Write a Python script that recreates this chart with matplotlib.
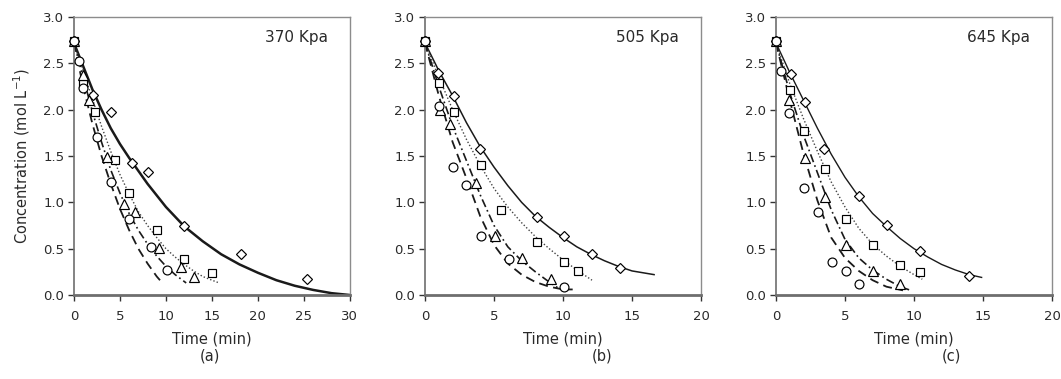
import matplotlib
matplotlib.use("Agg")
import matplotlib.pyplot as plt

plt.rcParams['font.family'] = ['DejaVu Sans']
plt.rcParams['mathtext.default'] = 'regular'

# ---- panel (a) 370 Kpa ----
a_dia_t = [0, 2.1, 4.06, 6.3, 8.1, 12.0, 18.2, 25.3]
a_dia_c = [2.74, 2.16, 1.97, 1.43, 1.33, 0.74, 0.44, 0.17]
a_sq_t = [0, 1.0, 2.3, 4.5, 6.0, 9.0, 12.0, 15.0]
a_sq_c = [2.74, 2.28, 1.98, 1.46, 1.10, 0.70, 0.39, 0.24]
a_tri_t = [0, 1.0, 1.6, 3.6, 5.4, 6.6, 9.2, 11.6, 13.1]
a_tri_c = [2.74, 2.37, 2.10, 1.49, 0.98, 0.90, 0.51, 0.30, 0.19]
a_cir_t = [0, 0.5, 1.0, 2.5, 4.0, 6.0, 8.4, 10.1]
a_cir_c = [2.74, 2.52, 2.23, 1.71, 1.22, 0.82, 0.52, 0.27]

a_fit_dia_t = [0, 1, 2, 3, 4, 5, 6, 8, 10, 12, 14, 16, 18, 20, 22, 24, 26, 28, 30]
a_fit_dia_c = [2.72, 2.47, 2.22, 2.0, 1.8, 1.63, 1.48, 1.2, 0.95, 0.74, 0.58, 0.44, 0.33, 0.24, 0.16, 0.10, 0.055, 0.02, 0.0]
a_fit_sq_t = [0, 1, 2, 3, 4, 5, 6, 7, 8, 9, 10, 11, 12, 13, 14, 15, 15.8]
a_fit_sq_c = [2.72, 2.42, 2.12, 1.82, 1.55, 1.30, 1.09, 0.90, 0.75, 0.62, 0.50, 0.41, 0.33, 0.26, 0.20, 0.16, 0.13]
a_fit_tri_t = [0, 1, 2, 3, 4, 5, 6, 7, 8, 9, 10, 11, 12.2]
a_fit_tri_c = [2.72, 2.35, 1.98, 1.65, 1.35, 1.10, 0.88, 0.70, 0.55, 0.42, 0.31, 0.22, 0.13]
a_fit_cir_t = [0, 1, 2, 3, 4, 5, 6, 7, 8, 9, 9.7]
a_fit_cir_c = [2.72, 2.25, 1.85, 1.50, 1.20, 0.93, 0.70, 0.50, 0.34, 0.20, 0.12]

# ---- panel (b) 505 Kpa ----
b_dia_t = [0, 0.96, 2.1, 4.0, 8.1, 10.1, 12.1, 14.1]
b_dia_c = [2.74, 2.40, 2.15, 1.58, 0.84, 0.64, 0.44, 0.29]
b_sq_t = [0, 1.04, 2.07, 4.07, 5.54, 8.1, 10.1, 11.06]
b_sq_c = [2.74, 2.29, 1.97, 1.40, 0.92, 0.57, 0.36, 0.26]
b_tri_t = [0, 1.08, 1.8, 3.7, 5.1, 7.0, 9.1]
b_tri_c = [2.74, 2.00, 1.85, 1.21, 0.64, 0.40, 0.17]
b_cir_t = [0, 1.0, 2.05, 3.0, 4.05, 6.07, 10.1]
b_cir_c = [2.74, 2.04, 1.38, 1.19, 0.64, 0.39, 0.09]

b_fit_dia_t = [0, 1, 2, 3, 4, 5, 6, 7, 8, 9, 10, 11, 12, 13, 14, 15, 16.6]
b_fit_dia_c = [2.72, 2.42, 2.15, 1.86, 1.60, 1.38, 1.18, 1.00, 0.85, 0.73, 0.62, 0.52, 0.44, 0.37, 0.31, 0.26, 0.22]
b_fit_sq_t = [0, 1, 2, 3, 4, 5, 6, 7, 8, 9, 10, 11, 12.1]
b_fit_sq_c = [2.72, 2.35, 2.00, 1.68, 1.40, 1.15, 0.95, 0.78, 0.63, 0.50, 0.38, 0.27, 0.16]
b_fit_tri_t = [0, 1, 2, 3, 4, 5, 6, 7, 8, 9, 9.6]
b_fit_tri_c = [2.72, 2.25, 1.82, 1.45, 1.08, 0.75, 0.52, 0.37, 0.25, 0.14, 0.08]
b_fit_cir_t = [0, 1, 2, 3, 4, 5, 6, 7, 8, 9, 10, 10.7]
b_fit_cir_c = [2.72, 2.15, 1.65, 1.26, 0.85, 0.54, 0.34, 0.22, 0.14, 0.09, 0.06, 0.06]

# ---- panel (c) 645 Kpa ----
c_dia_t = [0, 1.08, 2.07, 3.5, 6.05, 8.02, 10.4, 14.0]
c_dia_c = [2.74, 2.39, 2.08, 1.58, 1.07, 0.76, 0.47, 0.21]
c_sq_t = [0, 1.04, 2.02, 3.52, 5.04, 7.0, 8.99, 10.43]
c_sq_c = [2.74, 2.21, 1.77, 1.36, 0.82, 0.54, 0.32, 0.245]
c_tri_t = [0, 0.96, 2.07, 3.54, 5.06, 7.06, 8.99]
c_tri_c = [2.74, 2.10, 1.48, 1.06, 0.545, 0.26, 0.12]
c_cir_t = [0, 0.36, 0.92, 2.0, 3.06, 4.07, 5.04, 6.05]
c_cir_c = [2.74, 2.42, 1.96, 1.15, 0.90, 0.36, 0.26, 0.12]

c_fit_dia_t = [0, 1, 2, 3, 4, 5, 6, 7, 8, 9, 10, 11, 12, 13, 14, 14.9]
c_fit_dia_c = [2.72, 2.40, 2.10, 1.80, 1.52, 1.27, 1.06, 0.88, 0.74, 0.61, 0.50, 0.41, 0.33, 0.27, 0.22, 0.19]
c_fit_sq_t = [0, 1, 2, 3, 4, 5, 6, 7, 8, 9, 10, 10.6]
c_fit_sq_c = [2.72, 2.28, 1.90, 1.55, 1.22, 0.95, 0.72, 0.55, 0.42, 0.31, 0.22, 0.17]
c_fit_tri_t = [0, 1, 2, 3, 4, 5, 6, 7, 8, 9, 9.76]
c_fit_tri_c = [2.72, 2.18, 1.72, 1.32, 0.92, 0.60, 0.40, 0.27, 0.17, 0.09, 0.05]
c_fit_cir_t = [0, 1, 2, 3, 4, 5, 6, 7, 8, 9.2]
c_fit_cir_c = [2.72, 2.10, 1.52, 1.02, 0.62, 0.40, 0.26, 0.16, 0.09, 0.05]

pressures = ['370 Kpa', '505 Kpa', '645 Kpa']
letters = ['(a)', '(b)', '(c)']
xmax = [30, 20, 20]

panels = [
    dict(pts=[(a_dia_t, a_dia_c), (a_sq_t, a_sq_c), (a_tri_t, a_tri_c), (a_cir_t, a_cir_c)],
         fits=[(a_fit_dia_t, a_fit_dia_c), (a_fit_sq_t, a_fit_sq_c), (a_fit_tri_t, a_fit_tri_c), (a_fit_cir_t, a_fit_cir_c)]),
    dict(pts=[(b_dia_t, b_dia_c), (b_sq_t, b_sq_c), (b_tri_t, b_tri_c), (b_cir_t, b_cir_c)],
         fits=[(b_fit_dia_t, b_fit_dia_c), (b_fit_sq_t, b_fit_sq_c), (b_fit_tri_t, b_fit_tri_c), (b_fit_cir_t, b_fit_cir_c)]),
    dict(pts=[(c_dia_t, c_dia_c), (c_sq_t, c_sq_c), (c_tri_t, c_tri_c), (c_cir_t, c_cir_c)],
         fits=[(c_fit_dia_t, c_fit_dia_c), (c_fit_sq_t, c_fit_sq_c), (c_fit_tri_t, c_fit_tri_c), (c_fit_cir_t, c_fit_cir_c)]),
]

markers = ['D', 's', '^', 'o']
msizes = [5.4, 6.4, 7.8, 6.4]
fit_styles = [
    dict(ls='-', color='#1a1a1a'),
    dict(ls=(0, (1, 1.5)), color='#444444', lw=1.0),
    dict(ls=(0, (5, 2, 1, 2)), color='#1a1a1a', lw=1.2),
    dict(ls=(0, (5, 3)), color='#1a1a1a', lw=1.3),
]
solid_lw = [1.8, 1.1, 1.0]

fig = plt.figure(figsize=(10.61, 3.79), dpi=100)
lefts = [0.0697, 0.4006, 0.7314]
letter_x = [0.198, 0.567, 0.897]

for i in range(3):
    ax = fig.add_axes([lefts[i], 0.2216, 0.2601, 0.7335])
    p = panels[i]
    for j, (t, c) in enumerate(p['fits']):
        st = dict(fit_styles[j])
        if j == 0:
            st['lw'] = solid_lw[i]
        ax.plot(t, c, zorder=2, **st)
    for j, (t, c) in enumerate(p['pts']):
        ax.plot(t, c, ls='none', marker=markers[j], ms=msizes[j], mfc='white',
                mec='black', mew=0.85, zorder=3, clip_on=False)
    ax.set_xlim(0, xmax[i])
    ax.set_ylim(0, 3)
    ax.set_xticks(range(0, xmax[i] + 1, 5))
    ax.set_yticks([0, 0.5, 1.0, 1.5, 2.0, 2.5, 3.0])
    ax.set_yticklabels(['0.0', '0.5', '1.0', '1.5', '2.0', '2.5', '3.0'])
    ax.tick_params(direction='out', length=4, width=1, labelsize=9.5, colors='#333333',
                   labelcolor='#2a2a2a')
    ax.tick_params(axis='x', pad=7)
    ax.tick_params(axis='y', pad=3)
    for s in ['top', 'right']:
        ax.spines[s].set_color('#8c8c8c')
        ax.spines[s].set_linewidth(1.0)
    ax.spines['left'].set_color('#6e6e6e')
    ax.spines['left'].set_linewidth(1.2)
    ax.spines['bottom'].set_color('#6e6e6e')
    ax.spines['bottom'].set_linewidth(2.0)
    ax.text(0.92, 0.925, pressures[i], transform=ax.transAxes, ha='right', va='center',
            fontsize=11, color='#2a2a2a')
    ax.set_xlabel('Time (min)', fontsize=10.5, color='#2a2a2a', labelpad=6)
    if i == 0:
        ax.set_ylabel('Concentration (mol L$^{-1}$)', fontsize=10.5, color='#2a2a2a', labelpad=8)
    fig.text(letter_x[i], 0.06, letters[i], ha='center', va='center', fontsize=10.5, color='#2a2a2a')

fig.savefig('out.png', dpi=100)
plt.close(fig)
